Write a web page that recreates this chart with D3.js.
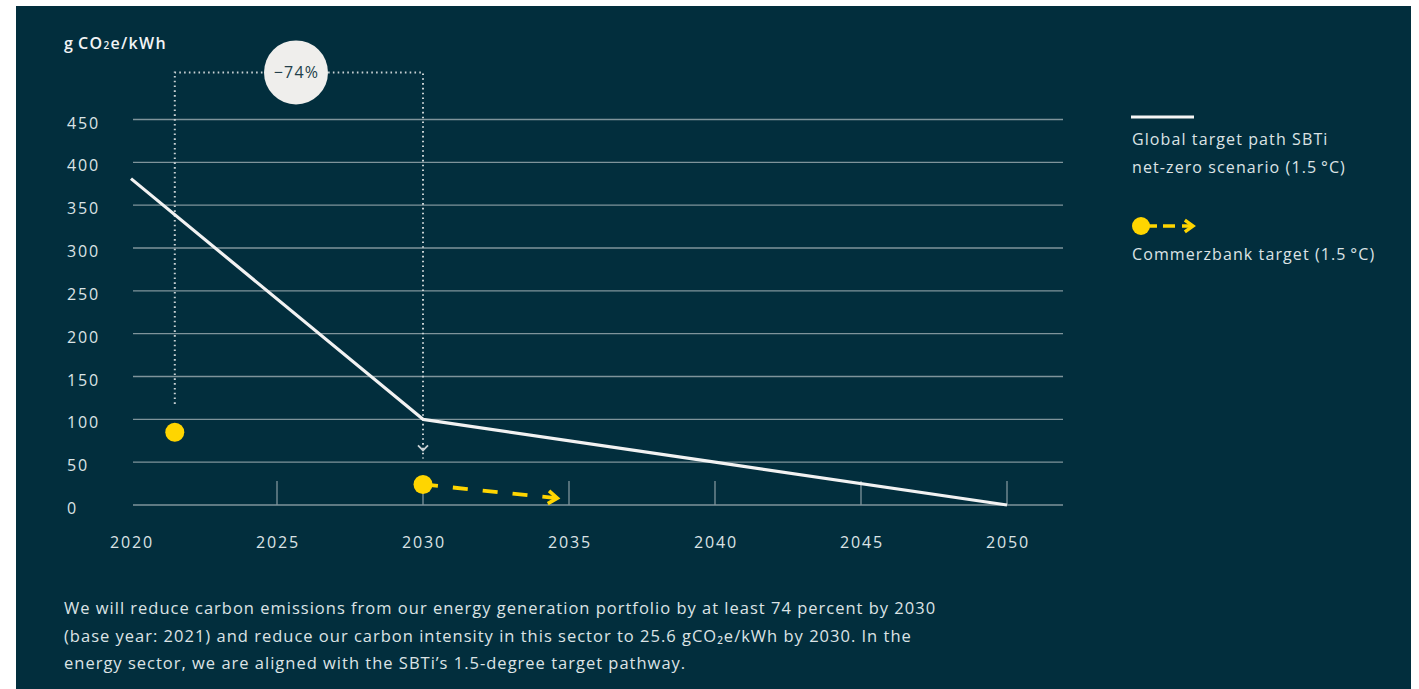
<!DOCTYPE html>
<html><head><meta charset="utf-8">
<script src="https://cdn.jsdelivr.net/npm/d3@7"></script>
<style>
html,body{margin:0;padding:0;background:#fff;}
svg{display:block;}
</style></head>
<body>
<svg id="c" width="1419" height="689"></svg>
<script>
const years = [2020, 2030, 2040, 2050];
const sbtiValues = [381, 100, 50, 0];
const cbYears = [2021.5, 2030];
const cbValues = [85, 24];
const cbArrowEnd = [2034.6, 8];
const yTicks = [0, 50, 100, 150, 200, 250, 300, 350, 400, 450];
const xTicks = [2020, 2025, 2030, 2035, 2040, 2045, 2050];
const bracket = {from: 2021.5, to: 2030, startValue: 118, topValue: 505, endValue: 66, label: "\u221274%"};
const legendLabels = [["Global target path SBTi", "net-zero scenario (1.5\u2009\u00b0C)"], ["Commerzbank target (1.5\u2009\u00b0C)"]];
const captionLines = [
  "We will reduce carbon emissions from our energy generation portfolio by at least 74 percent by 2030",
  "(base year: 2021) and reduce our carbon intensity in this sector to 25.6 gCO\u2082e/kWh by 2030. In the",
  "energy sector, we are aligned with the SBTi\u2019s 1.5-degree target pathway."
];

const FONT = "'Open Sans', sans-serif";
const BG = "#022e3d", GRID = "#7f949b", TXT = "#dce3e5", YEL = "#ffd500";
const svg = d3.select("#c");
svg.append("rect").attr("x",16).attr("y",6).attr("width",1395).attr("height",683).attr("fill",BG);

const x = d3.scaleLinear().domain([2020, 2050]).range([131, 1007]);
const y = d3.scaleLinear().domain([0, 450]).range([505, 119.5]);
const gridRight = 1063;

// gridlines
svg.append("g").selectAll("line").data(yTicks).join("line")
  .attr("x1", x(2020)+2).attr("x2", gridRight)
  .attr("y1", d=>y(d)).attr("y2", d=>y(d))
  .attr("stroke", GRID).attr("stroke-width", 1.3);

// y labels
svg.append("g").selectAll("text").data(yTicks).join("text")
  .attr("x", 67).attr("y", d=>y(d)+9)
  .attr("fill", TXT).attr("font-family", FONT).attr("font-size", 16).attr("letter-spacing", 1.8)
  .text(d=>d);

// x ticks
const tickYears = xTicks.filter(d=>d!==2020 && d!==2030);
svg.append("g").selectAll("line").data(tickYears).join("line")
  .attr("x1", d=>x(d)).attr("x2", d=>x(d))
  .attr("y1", y(0)-24).attr("y2", y(0))
  .attr("stroke", GRID).attr("stroke-width", 1.3);
svg.append("line").attr("x1", x(2030)).attr("x2", x(2030))
  .attr("y1", y(cbValues[1])).attr("y2", y(0))
  .attr("stroke", GRID).attr("stroke-width", 1.3);

// x labels
svg.append("g").selectAll("text").data(xTicks).join("text")
  .attr("x", d=>x(d)+1).attr("y", 548)
  .attr("text-anchor","middle")
  .attr("fill", TXT).attr("font-family", FONT).attr("font-size", 16).attr("letter-spacing", 1.8)
  .text(d=>d);

// unit title
const t = svg.append("text").attr("x", 64).attr("y", 49)
  .attr("fill", "#f2f4f5").attr("font-family", FONT).attr("font-size", 16).attr("font-weight", 600).attr("letter-spacing", 1.3);
t.append("tspan").text("g\u2009CO");
t.append("tspan").attr("font-size", 10).text("2");
t.append("tspan").text("e/kWh");

// bracket (dotted)
const DOT = "#c9d1d4";
svg.append("path")
  .attr("d", d3.line()([[x(bracket.from), y(bracket.startValue)], [x(bracket.from), y(bracket.topValue)], [x(bracket.to), y(bracket.topValue)], [x(bracket.to), y(bracket.endValue)+10]]))
  .attr("fill","none").attr("stroke", DOT).attr("stroke-width", 2).attr("stroke-dasharray", "1.6 3.2");
svg.append("path")
  .attr("d", d3.line()([[x(bracket.to)-5, y(bracket.endValue)-3], [x(bracket.to), y(bracket.endValue)+2], [x(bracket.to)+5, y(bracket.endValue)-3]]))
  .attr("fill","none").attr("stroke", DOT).attr("stroke-width",1.8);
const cx = 296;
svg.append("circle").attr("cx", cx).attr("cy", y(bracket.topValue)).attr("r", 32).attr("fill", "#efeeec");
svg.append("text").attr("x", cx+0.5).attr("y", y(bracket.topValue)+6)
  .attr("text-anchor","middle").attr("fill","#233f4b").attr("font-family",FONT).attr("font-size",16).attr("letter-spacing",1.2)
  .text(bracket.label);

// SBTi line
svg.append("path").datum(years.map((d,i)=>[d, sbtiValues[i]]))
  .attr("d", d3.line().x(d=>x(d[0])).y(d=>y(d[1])))
  .attr("fill","none").attr("stroke","#f2f2f2").attr("stroke-width",3.2).attr("stroke-linejoin","round");

// Commerzbank dashed arrow
function chevron(px, py, angle, s, spread){
  const p1 = [px - s*Math.cos(angle-spread), py - s*Math.sin(angle-spread)];
  const p2 = [px - s*Math.cos(angle+spread), py - s*Math.sin(angle+spread)];
  return d3.line()([p1,[px,py],p2]);
}
const a0 = [x(cbYears[1]), y(cbValues[1])], a1 = [x(cbArrowEnd[0]), y(cbArrowEnd[1])];
svg.append("line").attr("x1", a0[0]).attr("y1", a0[1]).attr("x2", a1[0]-1).attr("y2", a1[1])
  .attr("stroke", YEL).attr("stroke-width", 3.8).attr("stroke-dasharray", "15 15");
const ang = Math.atan2(a1[1]-a0[1], a1[0]-a0[0]);
svg.append("path").attr("d", chevron(a1[0], a1[1], ang, 11, 0.62)).attr("fill","none")
  .attr("stroke", YEL).attr("stroke-width", 3.6).attr("stroke-linejoin","miter");

// Commerzbank dots
svg.append("g").selectAll("circle").data(cbYears).join("circle")
  .attr("cx", (d)=>x(d)).attr("cy", (d,i)=>y(cbValues[i])).attr("r", 9.5).attr("fill", YEL);

// legend
const lx = 1131;
svg.append("line").attr("x1", lx).attr("x2", 1194).attr("y1", 117).attr("y2", 117)
  .attr("stroke","#f5f5f5").attr("stroke-width",3.2);
svg.append("g").selectAll("text").data(legendLabels[0]).join("text")
  .attr("x", lx+1).attr("y", (d,i)=>145+i*28)
  .attr("fill", TXT).attr("font-family", FONT).attr("font-size", 16).attr("letter-spacing", 1.1).text(d=>d);
svg.append("line").attr("x1", 1141).attr("x2", 1192).attr("y1", 226).attr("y2", 226)
  .attr("stroke", YEL).attr("stroke-width", 3.6).attr("stroke-dasharray", "16 6 12 7 20");
svg.append("circle").attr("cx", 1141).attr("cy", 226).attr("r", 9).attr("fill", YEL);
svg.append("path").attr("d", chevron(1193, 226, 0, 10, 0.62)).attr("fill","none").attr("stroke",YEL).attr("stroke-width",3.4);
svg.append("g").selectAll("text").data(legendLabels[1]).join("text")
  .attr("x", lx+1).attr("y", 260)
  .attr("fill", TXT).attr("font-family", FONT).attr("font-size", 16).attr("letter-spacing", 1.1).text(d=>d);

// caption
svg.append("g").selectAll("text").data(captionLines).join("text")
  .attr("x", 64).attr("y", (d,i)=>614+i*27.5)
  .attr("fill", TXT).attr("font-family", FONT).attr("font-size", 16.5).attr("letter-spacing", 1.0).text(d=>d);
</script>
</body></html>
